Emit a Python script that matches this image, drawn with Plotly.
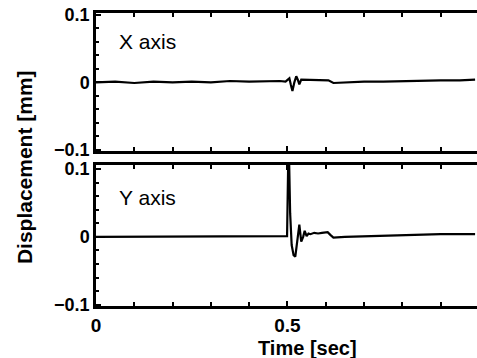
import plotly.graph_objects as go
from plotly.subplots import make_subplots

# ---- data ----
t_x = [0.0, 0.05, 0.1, 0.15, 0.2, 0.25, 0.3, 0.35, 0.4, 0.45, 0.48, 0.495,
       0.5, 0.505, 0.509, 0.513, 0.518, 0.523, 0.527, 0.531, 0.536, 0.542,
       0.56, 0.58, 0.6, 0.607, 0.62, 0.65, 0.7, 0.75, 0.8, 0.85, 0.9, 0.95, 0.99]
disp_x = [0.0, 0.001, -0.001, 0.001, 0.0, 0.001, 0.0, 0.002, 0.001, 0.002, 0.002, 0.001,
          0.003, 0.006, -0.004, -0.013, 0.0, 0.009, 0.004, -0.003, 0.004, 0.004,
          0.003, 0.004, 0.003, 0.003, -0.001, 0.0, 0.001, 0.001, 0.002, 0.002, 0.003, 0.003, 0.004]

t_y = [0.0, 0.05, 0.1, 0.15, 0.2, 0.25, 0.3, 0.35, 0.4, 0.45, 0.49, 0.499,
       0.503, 0.507, 0.511, 0.516, 0.5205, 0.526, 0.531, 0.536, 0.541, 0.545,
       0.55, 0.555, 0.56, 0.57, 0.58, 0.59, 0.6, 0.605, 0.612, 0.62, 0.65,
       0.7, 0.75, 0.8, 0.85, 0.9, 0.95, 0.99]
disp_y = [0.0, 0.0, 0.001, 0.0, 0.001, 0.0, 0.001, 0.001, 0.0, 0.001, 0.001, 0.001,
          0.15, 0.035, -0.012, -0.027, -0.029, 0.0, 0.018, -0.007, 0.0, 0.009,
          0.001, 0.005, 0.004, 0.006, 0.005, 0.006, 0.006, 0.007, 0.003, -0.001, 0.0,
          0.001, 0.002, 0.003, 0.003, 0.004, 0.004, 0.004]

panel_labels = ["X axis", "Y axis"]
y_ticks = [-0.1, 0, 0.1]
y_ticktext = ["<b>\u22120.1</b>", "<b>0</b>", "<b>0.1</b>"]
x_ticks = [0, 0.5]
x_ticktext = ["<b>0</b>", "<b>0.5</b>"]

FONT = "Liberation Sans, Arial, sans-serif"

fig = make_subplots(rows=2, cols=1, shared_xaxes=False, vertical_spacing=0.0)

fig.add_trace(go.Scatter(x=t_x, y=disp_x, mode="lines", cliponaxis=True,
                         line=dict(color="black", width=2.2), showlegend=False), row=1, col=1)
fig.add_trace(go.Scatter(x=t_y, y=disp_y, mode="lines", cliponaxis=True,
                         line=dict(color="black", width=2.2), showlegend=False), row=2, col=1)

xcommon = dict(range=[0, 0.995], showline=True, linecolor="black", linewidth=2.5,
               mirror="ticks", ticks="inside", ticklen=5, tickwidth=1.5, tickcolor="black",
               tickvals=x_ticks, ticktext=x_ticktext, showgrid=False, zeroline=False,
               automargin=False,
               minor=dict(dtick=0.1, tick0=0, ticks="inside", ticklen=4, tickcolor="black", tickwidth=1.5),
               tickfont=dict(family=FONT, size=19, color="black"))
ycommon = dict(showline=True, linecolor="black", linewidth=2.5, mirror=False,
               ticks="inside", ticklen=5, tickwidth=1.5, tickcolor="black",
               tickvals=y_ticks, ticktext=y_ticktext, showgrid=False, zeroline=False,
               automargin=False,
               minor=dict(dtick=0.02, tick0=0, ticks="inside", ticklen=3, tickcolor="black", tickwidth=1.5),
               tickfont=dict(family=FONT, size=18, color="black"), ticklabelstandoff=0)

fig.update_layout(
    width=477, height=358,
    margin=dict(l=96, r=0, t=13, b=52, autoexpand=False),
    paper_bgcolor="white", plot_bgcolor="white",
    xaxis=dict(xcommon, domain=[0, 1], showticklabels=False),
    xaxis2=dict(xcommon, domain=[0, 1], showticklabels=True),
    yaxis=dict(ycommon, domain=[0.529, 1.0], range=[-0.102, 0.103]),
    yaxis2=dict(ycommon, domain=[0.0, 0.481], range=[-0.102, 0.106]),
    font=dict(family=FONT, size=18, color="black"),
)

fig.add_annotation(text=panel_labels[0], xref="paper", yref="paper", x=0.055, y=0.902,
                   xanchor="left", yanchor="middle", showarrow=False,
                   font=dict(family=FONT, size=21, color="black"))
fig.add_annotation(text=panel_labels[1], xref="paper", yref="paper", x=0.055, y=0.369,
                   xanchor="left", yanchor="middle", showarrow=False,
                   font=dict(family=FONT, size=21, color="black"))
fig.add_annotation(text="<b>Displacement [mm]</b>", xref="paper", yref="paper", x=-0.189, y=0.474,
                   xanchor="center", yanchor="middle", textangle=-90, showarrow=False,
                   font=dict(family=FONT, size=21, color="black"))
fig.add_annotation(text="<b>Time [sec]</b>", xref="paper", yref="paper", x=0.556, y=-0.143,
                   xanchor="center", yanchor="middle", showarrow=False,
                   font=dict(family=FONT, size=20, color="black"))

fig.write_html("out.html", config={"displayModeBar": False},
               post_script="document.body.style.margin='0';document.body.style.overflow='hidden';")
